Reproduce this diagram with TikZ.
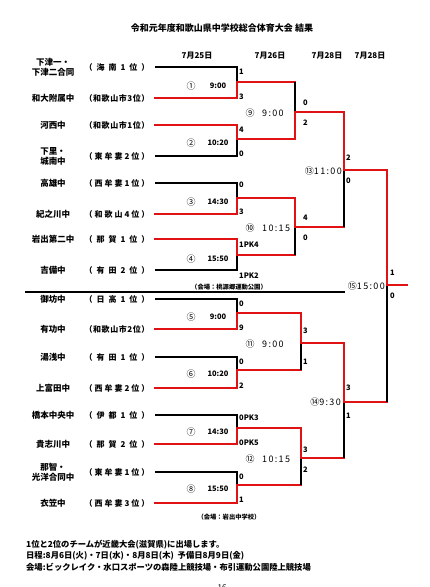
\documentclass[tikz,border=0pt]{standalone}
\usepackage{fontspec}
\setmainfont{Noto Sans CJK JP}
\newfontfamily\spaced[LetterSpace=15]{Noto Sans CJK JP}
\definecolor{winred}{RGB}{225,18,20}

% spread the letters of a rank over one fixed width
\def\spreadit#1{\ifx#1\relax\else#1\hfill\expandafter\spreadit\fi}
\newcommand\rank[1]{\makebox[65pt][s]{（\hfill\expandafter\spreadit#1\relax）}}

\tikzset{
  lose/.style={line width=1.3pt},
  win/.style={line width=2.8pt, winred, line cap=rect},
  team/.style={font=\bfseries\fontsize{8.5}{10}\selectfont, align=center, inner sep=0pt},
  qual/.style={font=\bfseries\fontsize{8}{9}\selectfont, inner sep=0pt},
  score/.style={font=\bfseries\fontsize{7.5}{8}\selectfont, anchor=west, inner sep=0pt},
  venue/.style={font=\bfseries\fontsize{6.3}{7}\selectfont, inner sep=0pt},
  note/.style={font=\bfseries\fontsize{8.3}{9}\selectfont, anchor=west, inner sep=0pt}
}

\begin{document}
\begin{tikzpicture}[x=1pt, y=-1pt]
        \useasboundingbox (0,0) rectangle (430,587);
        %title
        \node[font=\bfseries\fontsize{9}{10}\selectfont] (title) at (222,28) {令和元年度和歌山県中学校総合体育大会 結果};
        \foreach \x/\d [count=\i] in {197/25, 270/26, 327/28, 370/28}
            \node[font=\bfseries\fontsize{8}{9}\selectfont] (day\i) at (\x,56) {7月\d{}日};
        %teams
        \foreach \y/\nm/\rk [count=\i] in {
            67/{下津一・\\下津二合同}/海南1位, 98/和大附属中/和歌山市3位,
            125/河西中/和歌山市1位, 156/{下里・\\城南中}/東牟婁2位,
            183/高雄中/西牟婁1位, 214/紀之川中/和歌山4位,
            239/岩出第二中/那賀1位, 270/吉備中/有田2位,
            299/御坊中/日高1位, 329/有功中/和歌山市2位,
            357/湯浅中/有田1位, 388/上富田中/西牟婁2位,
            415/橋本中央中/伊都1位, 444/貴志川中/那賀2位,
            472/{那智・\\光洋合同中}/東牟婁1位, 503/衣笠中/西牟婁3位}
        {
            \node[team] (team\i) at (53,\y) {\nm};
            \node[qual] (rank\i) at (117,\y) {\rank{\rk}};
            \coordinate (t\i) at (155,\y);
            \coordinate (s\i) at (237,\y);
        }
        %round 1
        \foreach \ta/\tb/\j/\ym/\win/\nx in {1/2/1/82/2/295, 3/4/2/139/3/295,
            5/6/3/198/6/295, 7/8/4/255/7/295, 9/10/5/313/10/301,
            11/12/6/370/12/301, 13/14/7/428/14/301, 15/16/8/485/16/301}
        {
            \coordinate (p\j) at (237,\ym);
            \coordinate (q\j) at (\nx,\ym);
            \draw[lose] (t\ta) -- (s\ta) -- (s\tb) -- (t\tb);
            \draw[win] (t\win) -- (s\win) -- (p\j) -- (q\j);
        }
        %round 2
        \foreach \ma/\mb/\j/\ym/\win in {1/2/9/112/2, 3/4/10/227/3, 5/6/11/343/5, 7/8/12/458/7}
        {
            \coordinate (u\j) at (344,\ym);
            \coordinate (r\j) at (q\win |- u\j);
            \draw[lose] (q\ma) -- (q\mb);
            \draw[win] (q\win) -- (r\j) -- (u\j);
        }
        %semi finals
        \foreach \ma/\mb/\j/\ym/\win in {9/10/13/170/9, 11/12/14/402/11}
        {
            \coordinate (w\j) at (387,\ym);
            \coordinate (v\j) at (u\win |- w\j);
            \draw[lose] (u\ma) -- (u\mb);
            \draw[win] (u\win) -- (v\j) -- (w\j);
        }
        %final
        \coordinate (g) at (407,285);
        \coordinate (f) at (w13 |- g);
        \draw[lose] (w13) -- (w14);
        \draw[win] (w13) -- (f) -- (g);
        %split line
        \coordinate (sepl) at (25,292);
        \coordinate (sepr) at (345,292);
        \draw[line width=2.2pt] (sepl) -- (sepr);
        %match numbers and times
        \foreach \ym/\c/\tm [count=\i] in {82/①/9:00, 139/②/10:20, 198/③/14:30, 255/④/15:50,
            313/⑤/9:00, 370/⑥/10:20, 428/⑦/14:30, 485/⑧/15:50}
        {
            \node[font=\fontsize{9}{10}\selectfont] (num\i) at (191,\ym+4) {\c};
            \node[font=\bfseries\fontsize{7.5}{9}\selectfont] (time\i) at (218,\ym+4) {\tm};
        }
        \foreach \ym/\c/\tm [count=\i from 9] in {112/⑨/9:00, 227/⑩/10:15, 343/⑪/9:00, 458/⑫/10:15}
        {
            \node[font=\fontsize{9}{10}\selectfont] (num\i) at (250,\ym+1) {\c};
            \node[font=\fontsize{9}{10}\selectfont, anchor=west, inner sep=0pt] (time\i) at (262,\ym+1) {\spaced\tm};
        }
        \node[font=\fontsize{9}{10}\selectfont, anchor=east, inner sep=0pt] (num13) at (342,171) {⑬\spaced 11:00};
        \node[font=\fontsize{9}{10}\selectfont, anchor=east, inner sep=0pt] (num14) at (341,402) {⑭\spaced 9:30};
        \node[font=\fontsize{9}{10}\selectfont, anchor=east, inner sep=0pt] (num15) at (385,286) {⑮\spaced 15:00};
        %scores
        \foreach \x/\y/\s [count=\i] in {239/72/1, 239/97/3, 239/130/4, 239/154/0,
            239/185/0, 239/212/3, 239/245/1PK4, 239/276/1PK2,
            239/304/0, 239/328/9, 239/362/0, 239/386/2,
            239/418/0PK3, 239/443/0PK5, 239/477/0, 239/500/1,
            303/103/0, 303/123/2, 303/218/4, 303/238/0,
            303/331/3, 303/362/1, 303/450/3, 303/470/2,
            346/158/2, 346/181/0, 346/388/3, 346/416/1,
            390/273/1, 390/296/0}
            \node[score] (sc\i) at (\x,\y) {\s};
        %venues
        \node[venue] (venue1) at (229,287) {（会場：桃源郷運動公園）};
        \node[venue] (venue2) at (229,517) {（会場：岩出中学校）};
        %notes
        \node[note] (note1) at (26,545) {1位と2位のチームが近畿大会(滋賀県)に出場します。};
        \node[note] (note2) at (26,556) {日程:8月6日(火)・7日(水)・8月8日(木)\ \ 予備日8月9日(金)};
        \node[note] (note3) at (26,567) {会場:ビックレイク・水口スポーツの森陸上競技場・布引運動公園陸上競技場};
        \node[font=\fontsize{8}{9}\selectfont] (pageno) at (222,588) {16};
\end{tikzpicture}
\end{document}
